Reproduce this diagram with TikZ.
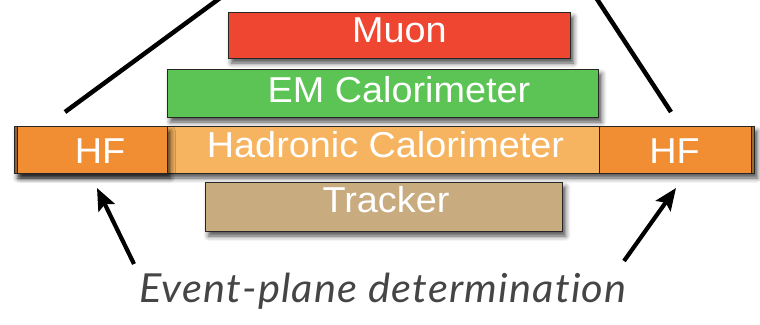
\documentclass[tikz,border=0pt]{standalone}
\usepackage{fontspec}
\setmainfont{Liberation Sans}
\newfontfamily\boxfont[FakeStretch=1.05]{Liberation Sans}
\newfontfamily\notefont[FakeStretch=1.04, LetterSpace=3, Ligatures=NoCommon]{Lato}
\usetikzlibrary{arrows.meta,shadows.blur,calc}

\definecolor{muonred}{HTML}{EE4630}
\definecolor{emgreen}{HTML}{5CC455}
\definecolor{hadorange}{HTML}{F7B460}
\definecolor{hforange}{HTML}{F18D33}
\definecolor{trackertan}{HTML}{C9AB80}
\definecolor{hfedge}{HTML}{9A6A30}
\definecolor{notegrey}{HTML}{454545}

\tikzset{
  layer/.style={draw=black!85, line width=0.9pt, inner sep=0pt, minimum height=47pt,
    blur shadow={shadow xshift=3.5pt, shadow yshift=-5pt, shadow blur radius=5pt, shadow opacity=70}},
  flat/.style={draw=black!85, line width=0.9pt, inner sep=0pt, minimum height=47pt},
  caption/.style={text=white, anchor=base, inner sep=0pt,
    font=\boxfont\fontsize{36}{40}\selectfont},
  cone/.style={line width=4.5pt, black, line cap=butt},
  pointer/.style={line width=4.2pt, black, -{Stealth[length=22pt, width=18pt, inset=4pt]}}
}

\begin{document}
\begin{tikzpicture}[x=1pt, y=-1pt]
\useasboundingbox (0,0) rectangle (760,324);

% opening angle of the detector
\begin{scope}
  \clip (0,0) rectangle (760,324);
  \coordinate (coneLa) at (65,112);
  \coordinate (coneLb) at (231,-10);
  \coordinate (coneRa) at (671,112);
  \coordinate (coneRb) at (591,-10);
  \draw[cone] (coneLa) -- (coneLb);
  \draw[cone] (coneRa) -- (coneRb);
\end{scope}

% muon system and electromagnetic calorimeter
\node[layer, fill=muonred, minimum width=342pt, minimum height=46pt] (muon) at (399,35) {};
\node[layer, fill=emgreen, minimum width=431pt, minimum height=48pt] (em) at (382.5,93) {};

% hadronic calorimeter bar with the forward calorimeters at both ends
\node[layer, fill=hfedge, minimum width=740pt] (bar) at (384,149.5) {};
\node[flat, fill=hadorange, minimum width=432pt] (had) at (383,149.5) {};
\node[layer, fill=hforange, minimum width=150pt] (hfL) at (92,149.5) {};
\node[flat, fill=hforange, minimum width=152pt] (hfR) at (675,149.5) {};
\draw[black!85, line width=0.9pt] (bar.north east) -- (bar.south east);

% tracker
\node[layer, fill=trackertan, minimum width=357pt, minimum height=49pt] (trk) at (383.5,206.5) {};

% layer names
\node[caption] (muonT) at (399.5,42) {Muon};
\node[caption] (emT) at (399,102) {EM Calorimeter};
\node[caption] (hadT) at (385.5,157) {Hadronic Calorimeter};
\node[caption] (trkT) at (386,212) {Tracker};
\node[caption] (hfLT) at (100,163) {HF};
\node[caption] (hfRT) at (674.5,163) {HF};

% annotation
\node[anchor=base, inner sep=0pt, text=notegrey, font=\notefont\itshape\fontsize{40}{44}\selectfont]
  (note) at (383,302) {Event-plane determination};
\coordinate (tipL) at (97,188);
\coordinate (tipR) at (676,188);
\coordinate (tailL) at (134,264);
\coordinate (tailR) at (624,261);
\draw[pointer] (tailL) -- (tipL);
\draw[pointer] (tailR) -- (tipR);
\end{tikzpicture}
\end{document}
